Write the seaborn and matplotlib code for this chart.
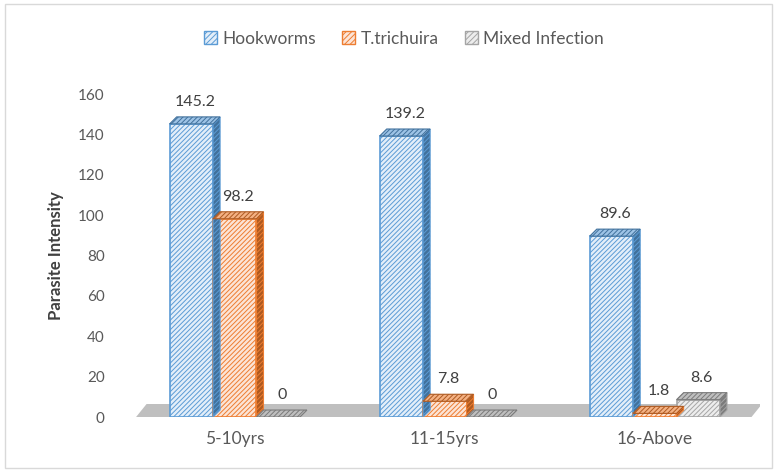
import matplotlib
matplotlib.use("Agg")
import matplotlib.pyplot as plt
from matplotlib.patches import Polygon, Rectangle
import seaborn as sns
import pandas as pd

# Mean parasite intensity by age group and infection type
age_groups = ["5-10yrs", "11-15yrs", "16-Above"]
series = ["Hookworms", "T.trichuira", "Mixed Infection"]
hookworms = [145.2, 139.2, 89.6]
trichuira = [98.2, 7.8, 1.8]
mixed = [0, 0, 8.6]
yticks = [0, 20, 40, 60, 80, 100, 120, 140, 160]

edge_colors = ["#5B9BD5", "#ED7D31", "#A5A5A5"]
face_colors = ["#E3EEF9", "#FCE4D6", "#EDEDED"]
side_colors = ["#41719C", "#AE5A21", "#7B7B7B"]
top_colors = ["#9DC3E6", "#F4B183", "#BFBFBF"]

df = pd.DataFrame({
    "Age group": age_groups * 3,
    "Infection": [s for s in series for _ in age_groups],
    "Intensity": hookworms + trichuira + mixed,
})

sns.set_theme(style="white")
plt.rcParams["font.family"] = ["Lato", "DejaVu Sans"]
plt.rcParams["hatch.linewidth"] = 0.7

fig = plt.figure(figsize=(7.77, 4.72), dpi=100)
ax = fig.add_axes([0.167, 0.1165, 0.811, 0.6843])

sns.barplot(data=df, x="Age group", y="Intensity", hue="Infection",
            hue_order=series, order=age_groups, palette=edge_colors,
            width=0.62, ax=ax, legend=False, zorder=3)

ax.set_xlim(-0.5, 2.5)
ax.set_ylim(0, 160)

# depth of the pseudo-3D extrusion in data units
px_x = 210.0
px_y = 323.0 / 160
dx = 7 / px_x
dy = 7 / px_y

# floor band behind the bars
floor = Polygon([(-0.47, 0), (2.46, 0), (2.46 + dx * 1.5, 13 / px_y),
                 (-0.47 + dx * 1.5, 13 / px_y)], closed=True,
                facecolor="#BFBFBF", edgecolor="none", zorder=1)
ax.add_patch(floor)

for i, container in enumerate(ax.containers):
    for bar, val in zip(container.patches, container.datavalues):
        bar.set_facecolor(face_colors[i])
        bar.set_edgecolor(edge_colors[i])
        bar.set_hatch("///////")
        bar.set_linewidth(1.2)
        x0 = bar.get_x()
        w = bar.get_width()
        h = bar.get_height()
        x1 = x0 + w
        side = Polygon([(x1, 0), (x1 + dx, dy), (x1 + dx, h + dy), (x1, h)],
                       closed=True, facecolor=side_colors[i],
                       edgecolor=edge_colors[i], linewidth=0.8,
                       hatch="///////", zorder=3)
        top = Polygon([(x0, h), (x0 + dx, h + dy), (x1 + dx, h + dy), (x1, h)],
                      closed=True, facecolor=top_colors[i],
                      edgecolor=side_colors[i], linewidth=0.8,
                      hatch="///////", zorder=4)
        ax.add_patch(side)
        ax.add_patch(top)
        ax.text(x0 + w / 2 + dx / 2, h + dy + 4, f"{val:g}",
                ha="center", va="bottom", fontsize=11.5, color="#404040",
                zorder=5)

sns.despine(ax=ax, left=True, bottom=True)
ax.set_yticks(yticks)
ax.set_yticklabels([str(t) for t in yticks], fontsize=11, color="#595959")
ax.tick_params(axis="y", length=0, pad=18)
ax.tick_params(axis="x", length=0, pad=10, labelsize=12.5, labelcolor="#595959")
ax.set_xlabel("")
ax.set_ylabel("Parasite Intensity", fontsize=12, fontweight="bold",
              color="#404040", labelpad=10)
ax.grid(False)

# legend with hatched squares
handles = [Rectangle((0, 0), 1, 1, facecolor=face_colors[i],
                     edgecolor=edge_colors[i], hatch="//////", linewidth=1)
           for i in range(3)]
fig.legend(handles, series, loc="center", bbox_to_anchor=(0.52, 0.918),
           ncol=3, frameon=False, fontsize=12.5, handlelength=0.75,
           handleheight=0.75, handletextpad=0.3, columnspacing=1.5,
           labelcolor="#595959")

# outer chart frame
fig.patches.append(Rectangle((0.006, 0.008), 0.988, 0.984,
                             transform=fig.transFigure, fill=False,
                             edgecolor="#D9D9D9", linewidth=1))

fig.savefig("out.png", dpi=100)
